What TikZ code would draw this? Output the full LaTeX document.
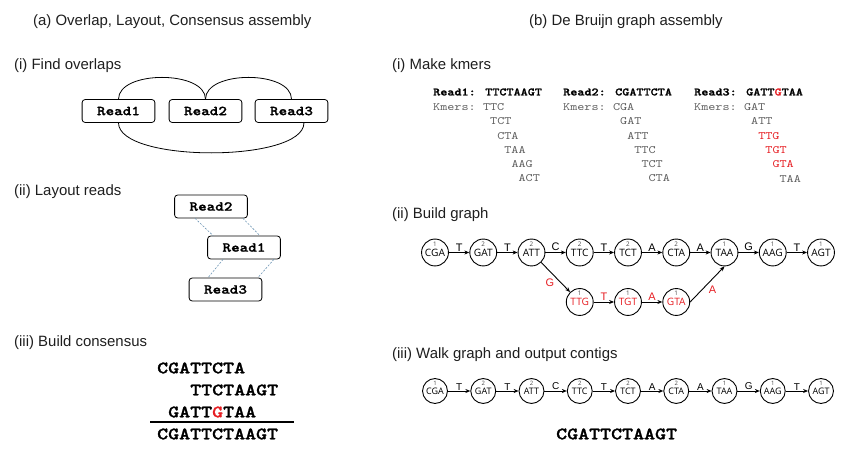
\documentclass[tikz,border=0pt]{standalone}
\usepackage{fontspec}
\setmainfont{Liberation Sans}
\newfontfamily\monof{lmmono10-regular}[Extension=.otf, BoldFont=lmmonolt10-bold, BoldFeatures={FakeBold=1.3}, FakeStretch=1.2]
\newfontfamily\nodef{Open Sans}
\usetikzlibrary{arrows.meta,calc}
\definecolor{kred}{RGB}{230,30,35}
\definecolor{kgray}{RGB}{95,95,95}
\definecolor{laycol}{RGB}{110,150,180}
\definecolor{numgray}{RGB}{70,70,70}
\definecolor{txt}{RGB}{30,30,30}
\tikzset{
  ttl/.style={anchor=west, inner sep=0, text=txt, font=\fontsize{15}{18}\selectfont},
  readbox/.style={draw, rounded corners=3pt, minimum width=73pt, minimum height=23pt, inner sep=0,
    line width=0.8pt, font=\monof\bfseries\fontsize{13.7}{16}\selectfont},
  ovl/.style={line width=0.8pt},
  lay/.style={dash pattern=on 2pt off 1.5pt, line width=0.6pt, draw=laycol},
  cons/.style={anchor=west, inner sep=0, font=\monof\bfseries\fontsize{17.5}{20}\selectfont},
  km/.style={anchor=west, inner sep=0, font=\monof\fontsize{11.3}{14}\selectfont, text=kgray},
  kmh/.style={anchor=west, inner sep=0, font=\monof\bfseries\fontsize{11.3}{14}\selectfont},
  kn/.style={circle, draw, line width=0.9pt, minimum size=27pt, inner sep=0, font=\nodef\fontsize{10.2}{11}\selectfont},
  wn/.style={kn, minimum size=25pt, font=\nodef\fontsize{9}{10}\selectfont},
  knum/.style={inner sep=0, text=numgray, font=\nodef\fontsize{6.3}{7}\selectfont},
  wnum/.style={inner sep=0, text=numgray, font=\nodef\fontsize{6}{7}\selectfont},
  edge/.style={-{Stealth[length=5pt,width=4pt]}, line width=0.9pt},
  elab/.style={inner sep=1pt, font=\fontsize{11}{12}\selectfont},
  wlab/.style={inner sep=0.5pt, font=\fontsize{10}{11}\selectfont},
}
\newcommand\kmnode[6]{% name, x, y, count, text, style
  \node[#6] (#1) at (#2,#3) {#5};
  \node[knum] (#1n) at ([yshift=8.5pt]#1.center) {#4};}
\newcommand\wknode[5]{% name, x, y, count, text
  \node[wn] (#1) at (#2,#3) {#5};
  \node[wnum] (#1n) at ([yshift=7.8pt]#1.center) {#4};}
\begin{document}
\begin{tikzpicture}[x=1bp,y=-1bp]
\useasboundingbox (0,0) rectangle (850,456);

% ---------- titles ----------
\node[ttl] (ta) at (33,22) {(a) Overlap, Layout, Consensus assembly};
\node[ttl] (tb) at (529,22) {(b) De Bruijn graph assembly};

% ---------- (a)(i) Find overlaps ----------
\node[ttl] (s1) at (14,66) {(i) Find overlaps};
\node[readbox] (o1) at (118.5,111) {Read1};
\node[readbox] (o2) at (205.5,111) {Read2};
\node[readbox] (o3) at (291.5,111) {Read3};
\draw[ovl] (o1.north) .. controls +(0,-29) and +(0,-29) .. (o2.north);
\draw[ovl] (o2.north) .. controls +(0,-29) and +(0,-29) .. (o3.north);
\draw[ovl] (o1.south) .. controls +(0,40) and +(0,40) .. ([xshift=12.5pt]o3.south);

% ---------- (a)(ii) Layout reads ----------
\node[ttl] (s2) at (14,192) {(ii) Layout reads};
\node[readbox] (l2) at (211,206.5) {Read2};
\node[readbox] (l1) at (244,247.5) {Read1};
\node[readbox] (l3) at (225.5,289.5) {Read3};
\draw[lay] ([xshift=-16pt]l2.south) -- ([xshift=-31pt]l1.north);
\draw[lay] ([xshift=32pt]l2.south) -- ([xshift=16pt]l1.north);
\draw[lay] ([xshift=-21pt]l1.south) -- ([xshift=-17.5pt]l3.north);
\draw[lay] ([xshift=30pt]l1.south) -- ([xshift=32.5pt]l3.north);

% ---------- (a)(iii) Build consensus ----------
\node[ttl] (s3) at (14,343) {(iii) Build consensus};
\node[cons] (c1) at (157,368) {CGATTCTA};
\node[cons] (c2) at (157+3*11.03,390) {TTCTAAGT};
\node[cons] (c3) at (157+11.03,412) {GATT\textcolor{kred}{G}TAA};
\coordinate (cl1) at (150,422);
\coordinate (cl2) at (294,422);
\draw[line width=1.1pt] (cl1) -- (cl2);
\node[cons] (c4) at (157,434) {CGATTCTAAGT};

% ---------- (b)(i) Make kmers ----------
\node[ttl] (s4) at (392,66) {(i) Make kmers};
\node[kmh] (h1) at (433,92) {Read1: TTCTAAGT};
\node[kmh] (h2) at (563,92) {Read2: CGATTCTA};
\node[kmh] (h3) at (694,92) {Read3: GATT\textcolor{kred}{G}TAA};
\node[km] (k1) at (433,107) {Kmers:};
\node[km] (k2) at (563,107) {Kmers:};
\node[km] (k3) at (694,107) {Kmers:};
\foreach \t [count=\i from 0] in {TTC,TCT,CTA,TAA,AAG,ACT}
  \node[km] (ka\i) at (433+7.12*7+7.12*\i,107+14.3*\i) {\t};
\foreach \t [count=\i from 0] in {CGA,GAT,ATT,TTC,TCT,CTA}
  \node[km] (kb\i) at (563+7.12*7+7.12*\i,107+14.3*\i) {\t};
\foreach \t/\c [count=\i from 0] in {GAT/kgray,ATT/kgray,TTG/kred,TGT/kred,GTA/kred,TAA/kgray}
  \node[km, text=\c] (kc\i) at (694+7.12*7+7.12*\i,107+14.3*\i) {\t};

% ---------- (b)(ii) Build graph ----------
\node[ttl] (s5) at (392,215) {(ii) Build graph};
\kmnode{g1}{435}{252.5}{1}{CGA}{kn}
\kmnode{g2}{483.25}{252.5}{2}{GAT}{kn}
\kmnode{g3}{531.5}{252.5}{2}{ATT}{kn}
\kmnode{g4}{579.75}{252.5}{2}{TTC}{kn}
\kmnode{g5}{628}{252.5}{2}{TCT}{kn}
\kmnode{g6}{676.25}{252.5}{2}{CTA}{kn}
\kmnode{g7}{724.5}{252.5}{1}{TAA}{kn}
\kmnode{g8}{772.75}{252.5}{1}{AAG}{kn}
\kmnode{g9}{821}{252.5}{1}{AGT}{kn}
\kmnode{r1}{579.75}{302}{1}{TTG}{kn,text=kred}
\kmnode{r2}{628}{302}{1}{TGT}{kn,text=kred}
\kmnode{r3}{676.25}{302}{1}{GTA}{kn,text=kred}
\draw[edge] (g1) -- node[elab,above]{T} (g2);
\draw[edge] (g2) -- node[elab,above]{T} (g3);
\draw[edge] (g3) -- node[elab,above]{C} (g4);
\draw[edge] (g4) -- node[elab,above]{T} (g5);
\draw[edge] (g5) -- node[elab,above]{A} (g6);
\draw[edge] (g6) -- node[elab,above]{A} (g7);
\draw[edge] (g7) -- node[elab,above]{G} (g8);
\draw[edge] (g8) -- node[elab,above]{T} (g9);
\draw[edge] (g3) -- node[elab,below left,text=kred]{G} (r1);
\draw[edge] (r1) -- node[elab,above,text=kred]{T} (r2);
\draw[edge] (r2) -- node[elab,above,text=kred]{A} (r3);
\draw[edge] (r3.east) -- node[elab,below right,text=kred]{A} (g7.south);

% ---------- (b)(iii) Walk graph ----------
\node[ttl] (s6) at (392,355) {(iii) Walk graph and output contigs};
\wknode{w1}{435}{391}{1}{CGA}
\wknode{w2}{483.25}{391}{2}{GAT}
\wknode{w3}{531.5}{391}{2}{ATT}
\wknode{w4}{579.75}{391}{2}{TTC}
\wknode{w5}{628}{391}{2}{TCT}
\wknode{w6}{676.25}{391}{2}{CTA}
\wknode{w7}{724.5}{391}{1}{TAA}
\wknode{w8}{772.75}{391}{1}{AAG}
\wknode{w9}{821}{391}{1}{AGT}
\draw[edge] (w1) -- node[wlab,above]{T} (w2);
\draw[edge] (w2) -- node[wlab,above]{T} (w3);
\draw[edge] (w3) -- node[wlab,above]{C} (w4);
\draw[edge] (w4) -- node[wlab,above]{T} (w5);
\draw[edge] (w5) -- node[wlab,above]{A} (w6);
\draw[edge] (w6) -- node[wlab,above]{A} (w7);
\draw[edge] (w7) -- node[wlab,above]{G} (w8);
\draw[edge] (w8) -- node[wlab,above]{T} (w9);
\node[cons] (ct) at (556,434) {CGATTCTAAGT};
\end{tikzpicture}
\end{document}
